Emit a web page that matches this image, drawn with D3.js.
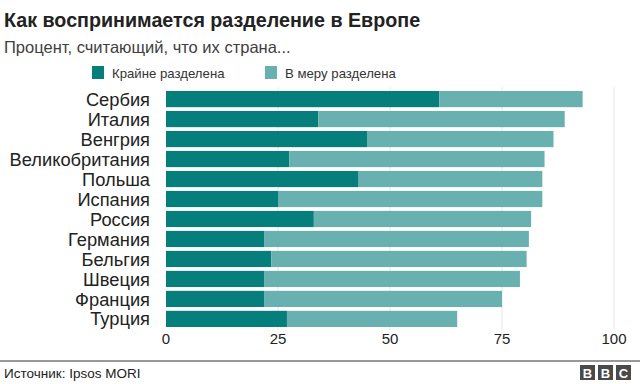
<!DOCTYPE html>
<html>
<head>
<meta charset="utf-8">
<script src="https://cdn.jsdelivr.net/npm/d3@7"></script>
<style>
  body { margin: 0; background: #fff; }
  svg { font-family: "Liberation Sans", Arial, Helvetica, sans-serif; }
  .grid line { stroke: #e6e6e6; }
  .country { font-size: 18.3px; fill: #222; }
  .tick-label { font-size: 15px; fill: #222; }
</style>
</head>
<body>
<div id="chart"></div>
<script>
// Data (percent)
const countries = ['Сербия', 'Италия', 'Венгрия', 'Великобритания', 'Польша', 'Испания',
    'Россия', 'Германия', 'Бельгия', 'Швеция', 'Франция', 'Турция'];
const extreme = [61, 34, 45, 27.5, 43, 25, 33, 22, 23.5, 22, 22, 27];
const moderate = [32, 55, 41.5, 57, 41, 59, 48.5, 59, 57, 57, 53, 38];
const seriesNames = ['Крайне разделена', 'В меру разделена'];
const xTicks = [0, 25, 50, 75, 100];

const colors = ['#067e7b', '#68b1b0'];

const width = 640, height = 384;
const margin = {left: 166, right: 26, top: 89, bottom: 55};

const svg = d3.select('#chart').append('svg')
    .attr('width', width)
    .attr('height', height);

// Title + subtitle
svg.append('text')
    .attr('x', 4).attr('y', 27)
    .style('font-size', '19.7px').style('font-weight', 'bold').style('fill', '#222')
    .text('Как воспринимается разделение в Европе');
svg.append('text')
    .attr('x', 4).attr('y', 53)
    .style('font-size', '16.5px').style('fill', '#404040')
    .text('Процент, считающий, что их страна...');

// Legend
const legendX = [92, 265];
seriesNames.forEach((name, i) => {
    svg.append('rect')
        .attr('x', legendX[i]).attr('y', 66)
        .attr('width', 12).attr('height', 13)
        .attr('fill', colors[i]);
    svg.append('text')
        .attr('x', legendX[i] + 20).attr('y', 78)
        .style('font-size', '13.2px').style('fill', '#333')
        .text(name);
});

// Scales
const x = d3.scaleLinear()
    .domain([0, 100])
    .range([margin.left, width - margin.right]);

const y = d3.scaleBand()
    .domain(countries)
    .range([margin.top, height - margin.bottom])
    .paddingInner(0.19)
    .paddingOuter(0.1);

// Vertical gridlines
svg.append('g')
    .attr('class', 'grid')
    .selectAll('line')
    .data(xTicks.slice(1))
    .join('line')
    .attr('x1', d => x(d)).attr('x2', d => x(d))
    .attr('y1', margin.top - 2).attr('y2', height - margin.bottom + 1);

// Stacked bars
const rows = countries.map((c, i) => ({country: c, extreme: extreme[i], moderate: moderate[i]}));
const stacked = d3.stack().keys(['extreme', 'moderate'])(rows);

svg.append('g')
    .selectAll('g')
    .data(stacked)
    .join('g')
    .attr('fill', (d, i) => colors[i])
    .selectAll('rect')
    .data(d => d)
    .join('rect')
    .attr('x', d => x(d[0]))
    .attr('y', d => y(d.data.country))
    .attr('width', d => x(d[1]) - x(d[0]))
    .attr('height', y.bandwidth());

// Country labels
svg.append('g')
    .selectAll('text')
    .data(countries)
    .join('text')
    .attr('class', 'country')
    .attr('x', 150)
    .attr('y', d => y(d) + y.bandwidth() / 2)
    .attr('dy', '0.36em')
    .attr('text-anchor', 'end')
    .text(d => d);

// X axis labels
svg.append('g')
    .selectAll('text')
    .data(xTicks)
    .join('text')
    .attr('class', 'tick-label')
    .attr('x', d => x(d))
    .attr('y', 344)
    .attr('text-anchor', 'middle')
    .text(d => d);

// Footer rule
svg.append('line')
    .attr('x1', 0).attr('x2', width)
    .attr('y1', 361).attr('y2', 361)
    .attr('stroke', '#333').attr('stroke-width', 1);

svg.append('text')
    .attr('x', 4).attr('y', 378)
    .style('font-size', '13.5px').style('fill', '#222')
    .text('Источник: Ipsos MORI');

// BBC blocks
const bbc = svg.append('g').attr('transform', 'translate(580,365)');
['B', 'B', 'C'].forEach((ch, i) => {
    bbc.append('rect')
        .attr('x', i * 18).attr('y', 0)
        .attr('width', 15).attr('height', 15)
        .attr('fill', '#4a4a4a');
    bbc.append('text')
        .attr('x', i * 18 + 7.5).attr('y', 12.5)
        .attr('text-anchor', 'middle')
        .style('font-size', '13px').style('font-weight', 'bold').style('fill', '#fff')
        .text(ch);
});
</script>
</body>
</html>
